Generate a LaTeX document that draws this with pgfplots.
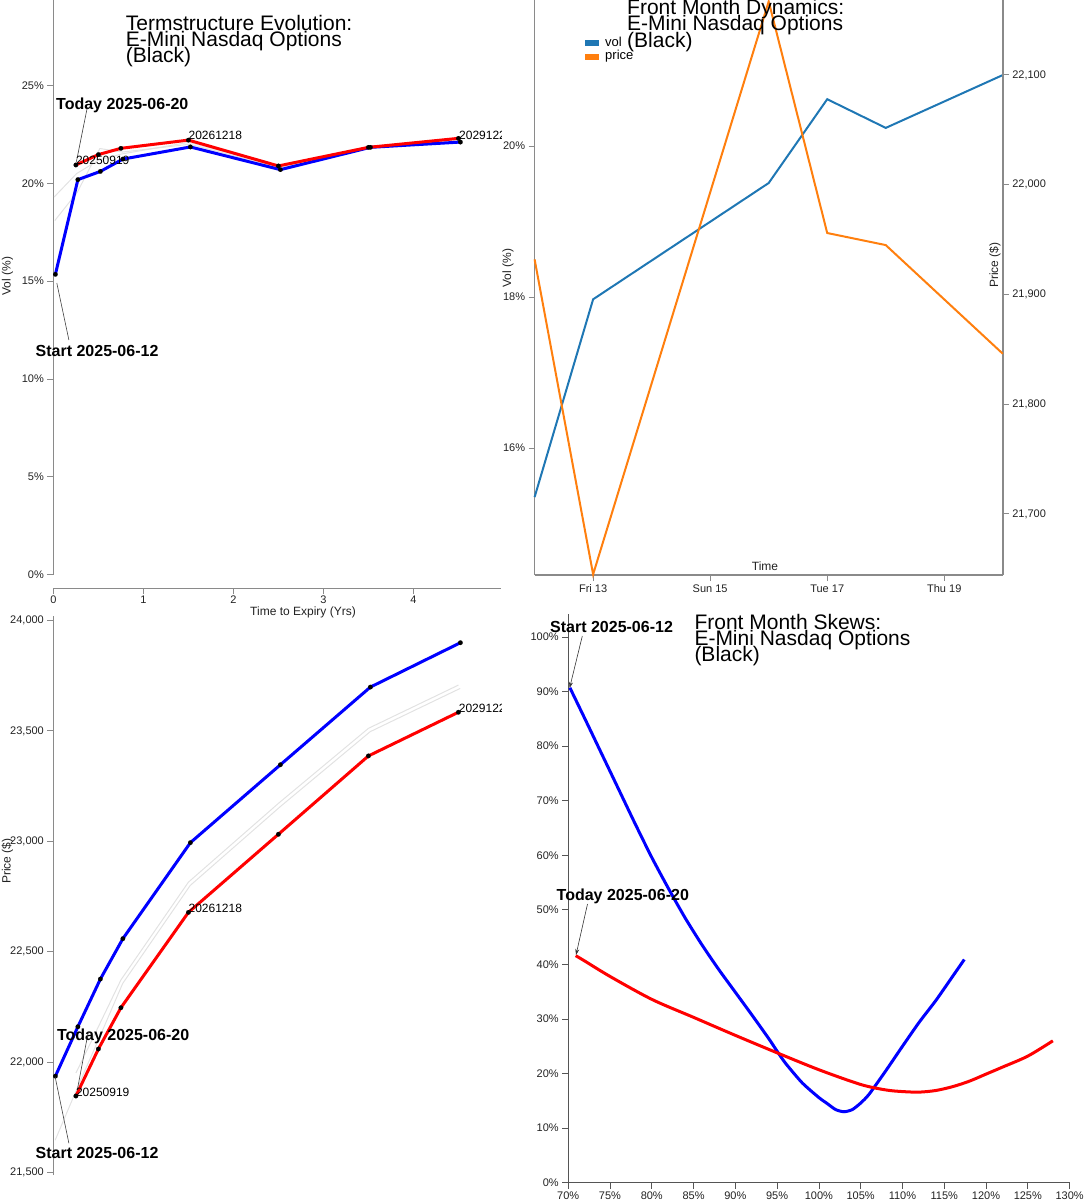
\documentclass[border=0pt]{standalone}
\usepackage{pgfplots}
\pgfplotsset{compat=1.18}
\usepackage{fontspec}
\setmainfont{Liberation Sans}
\usetikzlibrary{arrows.meta}
\definecolor{axgray}{HTML}{8A8A8A}
\definecolor{axdark}{HTML}{555555}
\definecolor{tvol}{HTML}{1F77B4}
\definecolor{tprice}{HTML}{FF7F0E}
\definecolor{ghost}{HTML}{E2E2E2}
\definecolor{txt}{HTML}{222222}
\newcommand{\fs}[2]{\fontsize{#1pt}{#2pt}\selectfont}
\pgfplotsset{
  panel/.style={
    scale only axis, clip=false, anchor=south west,
    scaled ticks=false,
    /pgf/number format/assume math mode=true,
    /pgf/number format/1000 sep={,},
    tick align=outside, major tick length=6pt,
    tick style={axgray, line width=1pt},
    tick label style={font=\fs{11}{13}, text=txt},
    axis line style={draw=none},
  },
  curve/.style={line width=3pt, mark=*, mark size=2.3pt,
    mark options={solid, black, fill=black, draw=black, line width=0.1pt}},
  ghostline/.style={ghost, line width=1pt},
}
\begin{document}
\begin{tikzpicture}[x=1pt,y=1pt]
\useasboundingbox (0,0) rectangle (1084,-1200);

% ---------------- Panel 1: term structure vol ----------------
\begin{axis}[panel, at={(53.4pt,-588.3pt)}, width=447.6pt, height=588.3pt,
  xmin=0, xmax=4.973, ymin=-0.695, ymax=29.37,
  axis x line*=bottom, axis y line*=left,
  xticklabel style={yshift=2pt},
  xtick={0,1,2,3,4}, ytick={0,5,10,15,20,25},
  yticklabel={\pgfmathprintnumber{\tick}\%}]
\draw[axgray, line width=1.5pt] (axis cs:0,0) -- (axis cs:0,29.37);
\draw[axgray, line width=1.5pt] (rel axis cs:0,0) -- (rel axis cs:1,0);
\addplot[ghostline] coordinates {(0.016,18.1) (0.266,19.55) (0.516,21.78) (0.766,21.6) (1.516,22.0) (2.516,20.8) (3.516,21.85) (4.516,22.2)};
\addplot[ghostline] coordinates {(0.008,19.3) (0.258,20.5) (0.508,21.2) (0.758,21.5) (1.508,22.1) (2.508,20.85) (3.508,21.84) (4.508,22.25)};
\addplot[blue, curve] coordinates {(0.022,15.35) (0.272,20.19) (0.522,20.61) (0.772,21.24) (1.522,21.86) (2.522,20.70) (3.522,21.84) (4.522,22.11)};
\addplot[red, curve] coordinates {(0.25,20.94) (0.5,21.47) (0.75,21.79) (1.5,22.21) (2.5,20.89) (3.5,21.84) (4.5,22.30)};
\end{axis}

% ---------------- Panel 2: front month dynamics ----------------
\begin{axis}[panel, at={(534.6pt,-575pt)}, width=468.2pt, height=575pt,
  xmin=12, xmax=20, ymin=14.318, ymax=21.934,
  axis x line*=bottom, axis y line*=left,
  xtick={13,15,17,19}, xticklabels={Fri 13,Sun 15,Tue 17,Thu 19},
  ytick={16,18,20}, yticklabel={\pgfmathprintnumber{\tick}\%}]
\draw[axgray, line width=1.5pt] (rel axis cs:0,0) -- (rel axis cs:0,1);
\draw[axgray, line width=1.5pt] (rel axis cs:0,0) -- (rel axis cs:1,0);
\addplot[tvol, line width=2pt] coordinates {(12,15.35) (13,17.97) (16,19.51) (17,20.62) (18,20.24) (20,20.94)};
\end{axis}
\begin{axis}[panel, at={(534.6pt,-575pt)}, width=468.2pt, height=575pt,
  xmin=12, xmax=20, ymin=21644.4, ymax=22168.3,
  axis x line=none, axis y line*=right,
  ytick={21700,21800,21900,22000,22100}]
\draw[axgray, line width=1.5pt] (rel axis cs:1,0) -- (rel axis cs:1,1);
\addplot[tprice, line width=2pt] coordinates {(12,21932) (13,21645) (16,22167) (17,21956) (18,21945) (20,21846)};
\end{axis}

% ---------------- Panel 3: term structure price ----------------
\begin{axis}[panel, at={(53.4pt,-1175pt)}, width=447.6pt, height=559pt,
  xmin=0, xmax=4.973, ymin=21488, ymax=24021,
  axis x line=none, axis y line*=left,
  ytick={21500,22000,22500,23000,23500,24000}]
\draw[axgray, line width=1.5pt] (rel axis cs:0,0) -- (rel axis cs:0,1);
\addplot[ghostline] coordinates {(0.02,21646) (0.27,21887) (0.52,22119) (0.77,22356) (1.52,22800) (2.52,23157) (3.52,23497) (4.52,23693)};
\addplot[ghostline] coordinates {(0.25,21950) (0.5,22160) (0.75,22372) (1.5,22815) (2.5,23172) (3.5,23512) (4.5,23708)};
\addplot[blue, curve] coordinates {(0.022,21936) (0.272,22160) (0.522,22376) (0.772,22559) (1.522,22994) (2.522,23347) (3.522,23699) (4.522,23900)};
\addplot[red, curve] coordinates {(0.25,21846) (0.5,22059) (0.75,22246) (1.5,22678) (2.5,23032) (3.5,23387) (4.5,23585)};
\end{axis}

% ---------------- Panel 4: skews ----------------
\begin{axis}[panel, at={(568.2pt,-1182.7pt)}, width=501.4pt, height=568.7pt,
  xmin=70, xmax=130, ymin=0, ymax=104.2,
  axis x line*=bottom, axis y line*=left,
  tick style={axdark, line width=0.8pt},
  xtick={70,75,...,130}, ytick={0,10,...,100},
  xticklabel={\pgfmathprintnumber{\tick}\%},
  yticklabel={\pgfmathprintnumber{\tick}\%}]
\draw[axdark, line width=1pt] (rel axis cs:0,0) -- (rel axis cs:0,1);
\draw[axdark, line width=1pt] (rel axis cs:0,0) -- (rel axis cs:1,0);
\addplot[blue, line width=3pt, smooth, tension=0.4] coordinates {(70.2,90.7) (72,85.0) (74,78.6) (76,72.2) (78,65.8) (80,59.6) (82,53.9) (84,48.5) (86,43.6) (88,39.1) (90,34.9) (92,30.7) (94,26.4) (95,24.1) (96,21.9) (98,18.3) (100,15.6) (101,14.5) (102,13.4) (103,13.0) (104,13.4) (105,14.6) (106,16.2) (108,20.5) (110,25.0) (112,29.4) (114,33.4) (116,37.8) (117.4,40.9)};
\addplot[red, line width=3pt, smooth, tension=0.5] coordinates {(70.9,41.6) (72,40.6) (75,37.8) (80,33.6) (85,30.3) (90,27.0) (95,23.8) (100,20.7) (105,18.0) (108,17.0) (110,16.7) (112,16.6) (114,16.9) (116,17.6) (118,18.6) (120,19.9) (122,21.2) (125,23.2) (128,26.0)};
\end{axis}

% ---------------- Titles ----------------
\begin{scope}[every node/.style={anchor=base west, inner sep=0pt, font=\fs{21}{21}, text=black}]
\node at (125.7,-30.3) {Termstructure Evolution:};
\node at (125.7,-46.6) {E-Mini Nasdaq Options};
\node at (125.7,-62.8) {(Black)};
\node at (627,-14) {Front Month Dynamics:};
\node at (627,-30.7) {E-Mini Nasdaq Options};
\node at (627,-47.3) {(Black)};
\node at (694.3,-629.3) {Front Month Skews:};
\node at (694.3,-645.7) {E-Mini Nasdaq Options};
\node at (694.3,-661.9) {(Black)};
\end{scope}

% ---------------- Axis labels ----------------
\begin{scope}[every node/.style={inner sep=0pt, font=\fs{12}{14}, text=txt}]
\node[anchor=base] at (303,-615) {Time to Expiry (Yrs)};
\node[rotate=90] at (7.5,-276) {Vol (\%)};
\node[rotate=90] at (7.5,-861) {Price (\$)};
\node[rotate=90] at (508,-268) {Vol (\%)};
\node[rotate=90] at (995,-265) {Price (\$)};
\node[anchor=base] at (765,-570) {Time};
\end{scope}

% ---------------- Legend panel 2 ----------------
\fill[tvol] (585,-39.5) rectangle (599,-46);
\fill[tprice] (585,-53.5) rectangle (599,-60);
\node[anchor=base west, inner sep=0pt, font=\fs{13}{15}] at (605,-46.3) {vol};
\node[anchor=base west, inner sep=0pt, font=\fs{13}{15}] at (605,-59.8) {price};

% ---------------- Annotations ----------------
\begin{scope}[every node/.style={anchor=base west, inner sep=0pt, font=\fs{16}{18}\bfseries, text=black}]
\node at (56,-109.3) {Today 2025-06-20};
\node at (35.5,-356.7) {Start 2025-06-12};
\node at (56.8,-1040) {Today 2025-06-20};
\node at (35.5,-1158.3) {Start 2025-06-12};
\node at (550,-632.3) {Start 2025-06-12};
\node at (556.5,-900) {Today 2025-06-20};
\end{scope}
\draw[black!75, line width=0.6pt] (87.1,-108.3) -- (76.4,-161.7);
\draw[black!75, line width=0.6pt] (68.9,-340) -- (56.8,-283);
\draw[black!75, line width=0.6pt] (88.3,-1031.7) -- (77.3,-1090);
\draw[black!75, line width=0.6pt] (68.9,-1143.3) -- (55.1,-1076.7);
\draw[black!80, line width=0.6pt, -{Stealth[length=6pt,width=4pt]}] (582.3,-636) -- (569.6,-688);
\draw[black!80, line width=0.6pt, -{Stealth[length=6pt,width=4pt]}] (587.5,-904) -- (576,-955);

% ---------------- Expiry labels ----------------
\begin{scope}
\clip (0,0) rectangle (501,-1200);
\begin{scope}[every node/.style={anchor=base west, inner sep=0pt, font=\fs{12}{14}, text=black}]
\node at (75.8,-164) {20250919};
\node at (188.4,-139.3) {20261218};
\node at (459,-139) {20291221};
\node at (75.8,-1096) {20250919};
\node at (188.4,-912.3) {20261218};
\node at (458.7,-712.3) {20291221};
\end{scope}
\end{scope}
\end{tikzpicture}
\end{document}
